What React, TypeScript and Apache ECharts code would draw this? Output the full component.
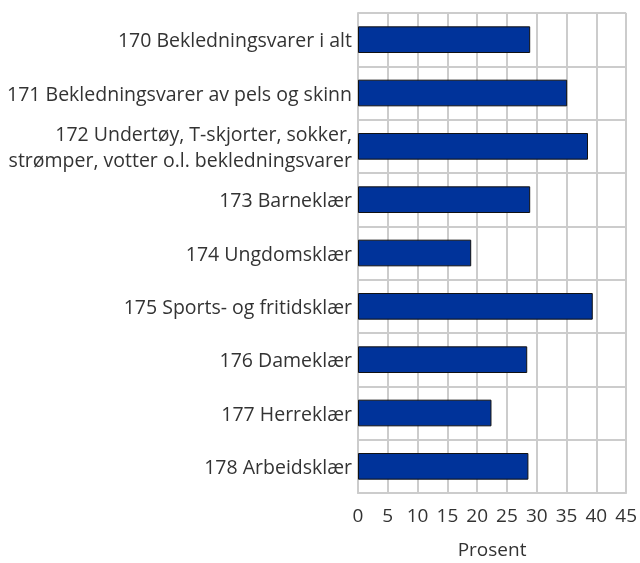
import React, { useEffect, useRef } from "react";
import * as echarts from "echarts";

const categories = [
  "170 Bekledningsvarer i alt",
  "171 Bekledningsvarer av pels og skinn",
  "172 Undertøy, T-skjorter, sokker,\nstrømper, votter o.l. bekledningsvarer",
  "173 Barneklær",
  "174 Ungdomsklær",
  "175 Sports- og fritidsklær",
  "176 Dameklær",
  "177 Herreklær",
  "178 Arbeidsklær",
];
const values = [28.9, 35.1, 38.6, 28.9, 19.0, 39.4, 28.4, 22.4, 28.6];

export default function App() {
  const ref = useRef<HTMLDivElement>(null);
  useEffect(() => {
    const chart = echarts.init(ref.current!, null, { renderer: "svg" });
    const font = "'Open Sans', 'Noto Sans', sans-serif";
    chart.setOption({
      animation: false,
      grid: { left: 358, right: 12, top: 13, bottom: 68, containLabel: false },
      xAxis: {
        type: "value",
        min: 0,
        max: 45,
        interval: 5,
        name: "Prosent",
        nameLocation: "middle",
        nameGap: 46,
        nameTextStyle: { fontFamily: font, fontSize: 19, color: "#333" },
        axisLine: { show: true, lineStyle: { color: "#cccccc", width: 2 } },
        axisTick: { show: false },
        axisLabel: { fontFamily: font, fontSize: 19, color: "#333", margin: 12 },
        splitLine: { show: true, lineStyle: { color: "#cccccc", width: 2 } },
      },
      yAxis: {
        type: "category",
        data: categories,
        inverse: true,
        axisLine: { show: true, lineStyle: { color: "#cccccc", width: 2 } },
        axisTick: { show: false },
        axisLabel: { fontFamily: font, fontSize: 19.5, color: "#333", margin: 6, lineHeight: 26 },
        splitLine: { show: true, lineStyle: { color: "#cccccc", width: 2 } },
      },
      series: [
        {
          type: "bar",
          data: values,
          barWidth: "50%",
          itemStyle: { color: "#00339a", borderColor: "#111", borderWidth: 1 },
          z: 3,
        },
      ],
    });
    return () => chart.dispose();
  }, []);
  return <div ref={ref} style={{ position: "fixed", left: 0, top: 0, width: 640, height: 563 }} />;
}
